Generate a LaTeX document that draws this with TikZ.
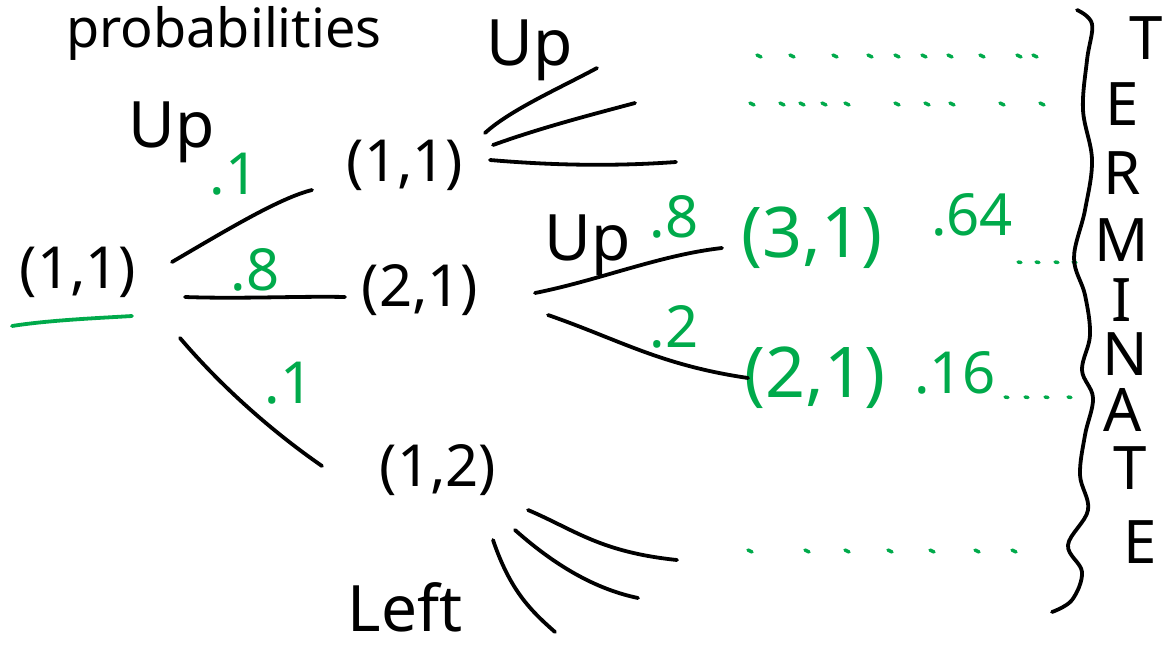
\documentclass[tikz,border=0pt]{standalone}
\usepackage{fontspec}
\setmainfont{Noto Sans}
\definecolor{pgreen}{RGB}{0,170,75}
\begin{document}
\begin{tikzpicture}[x=1pt,y=-1pt,
  hw/.style={inner sep=0pt, font=\fontsize{58}{58}\selectfont},
  hwup/.style={inner sep=0pt, font=\fontsize{64}{64}\selectfont},
  gt/.style={inner sep=0pt, text=pgreen, font=\fontsize{58}{58}\selectfont},
  bigg/.style={font=\fontsize{70}{70}\selectfont},
  letter/.style={inner sep=0pt, font=\fontsize{60}{60}\selectfont},
  stroke/.style={line width=3.8pt, line cap=round},
  gstroke/.style={stroke, draw=pgreen},
  gdot/.style={line width=3.4pt, line cap=round, draw=pgreen}]
\useasboundingbox (0,0) rectangle (1172,649);
\fill[white] (0,0) rectangle (1172,649);

\node[anchor=west, inner sep=0pt, font=\fontsize{54}{54}\selectfont] (title) at (66,33) {probabilities};

% black nodes
\node[hw] (root) at (78,272) {(1,1)};
\node[hw] (a) at (405,165) {(1,1)};
\node[hw] (b) at (420,290) {(2,1)};
\node[hw] (c) at (438,470) {(1,2)};
\node[hwup] (up1) at (172,132) {Up};
\node[hwup] (up2) at (530,50) {Up};
\node[hwup] (up3) at (588,245) {Up};
\node[hwup] (left) at (405,607) {Left};

% green labels
\node[gt] (p1) at (234,174) {.1};
\node[gt] (p8) at (255,270) {.8};
\node[gt] (p1b) at (289,383) {.1};
\node[gt] (p8b) at (674,217) {.8};
\node[gt] (p2) at (674,327) {.2};
\node[gt,bigg] (g31) at (812,238) {(3,1)};
\node[gt,bigg] (g21) at (815,378) {(2,1)};
\node[gt] (p64) at (972,215) {.64};
\node[gt] (p16) at (955,373) {.16};

% TERMINATE
\foreach \l/\x/\y/\n in {T/1146/38/t1, E/1122/104/t2, R/1122/173/t3, M/1122/240/t4, I/1122/300/t5, N/1125/354/t6, A/1123/410/t7, T/1130/468/t8, E/1140/542/t9}
  \node[letter] (\n) at (\x,\y) {\l};

% underline
\coordinate (u1) at (12,326); \coordinate (u2) at (132,316);
\draw[gstroke] (u1) .. controls (50,320) and (100,318) .. (u2);

% edges from root
\coordinate (r1s) at (172,262); \coordinate (r1e) at (312,190);
\coordinate (r2s) at (185,297); \coordinate (r2e) at (345,297);
\coordinate (r3s) at (180,338); \coordinate (r3e) at (322,466);
\draw[stroke] (r1s) .. controls (230,228) and (280,198) .. (r1e);
\draw[stroke] (r2s) .. controls (240,299) and (300,296) .. (r2e);
\draw[stroke] (r3s) .. controls (220,385) and (270,430) .. (r3e);

% edges from a
\coordinate (a1s) at (485,133); \coordinate (a1e) at (597,68);
\coordinate (a2s) at (493,145); \coordinate (a2e) at (635,103);
\coordinate (a3s) at (490,160); \coordinate (a3e) at (676,162);
\draw[stroke] (a1s) .. controls (510,110) and (560,88) .. (a1e);
\draw[stroke] (a2s) .. controls (540,128) and (590,115) .. (a2e);
\draw[stroke] (a3s) .. controls (560,166) and (620,166) .. (a3e);

% edges from b
\coordinate (b1s) at (535,293); \coordinate (b1e) at (722,248);
\coordinate (b2s) at (548,315); \coordinate (b2e) at (748,378);
\draw[stroke] (b1s) .. controls (600,280) and (660,255) .. (b1e);
\draw[stroke] (b2s) .. controls (620,340) and (660,365) .. (b2e);

% edges from c
\coordinate (c1s) at (528,510); \coordinate (c1e) at (677,560);
\coordinate (c2s) at (515,530); \coordinate (c2e) at (638,598);
\coordinate (c3s) at (493,540); \coordinate (c3e) at (555,632);
\draw[stroke] (c1s) .. controls (575,530) and (600,552) .. (c1e);
\draw[stroke] (c2s) .. controls (560,570) and (600,590) .. (c2e);
\draw[stroke] (c3s) .. controls (510,590) and (530,610) .. (c3e);

% green dots
\foreach \x in {757,790,833,868,895,922,948,980,1017,1033}
  \draw[gdot] (\x,55) -- ++(4,2);
\foreach \x in {750,780,800,822,845,895,925,950,1000,1040}
  \draw[gdot] (\x,103) -- ++(4,2);
\foreach \x in {1018,1036,1055,1073}
  \draw[gdot] (\x,262) -- ++(3,0.5);
\foreach \x in {1005,1025,1045,1068}
  \draw[gdot] (\x,397) -- ++(3,0.5);
\foreach \x in {748,805,845,888,930,975,1012}
  \draw[gdot] (\x,550) -- ++(4,2);

% brace
\draw[line width=3.8pt, line cap=round] plot[smooth, tension=0.6] coordinates {
  (1077,10) (1092,24) (1087,60) (1083,110) (1092,160) (1085,210) (1074,258)
  (1085,295) (1090,335) (1082,370) (1093,398) (1085,435) (1080,475) (1088,510)
  (1068,545) (1082,572) (1072,600) (1052,612)};
\end{tikzpicture}
\end{document}
